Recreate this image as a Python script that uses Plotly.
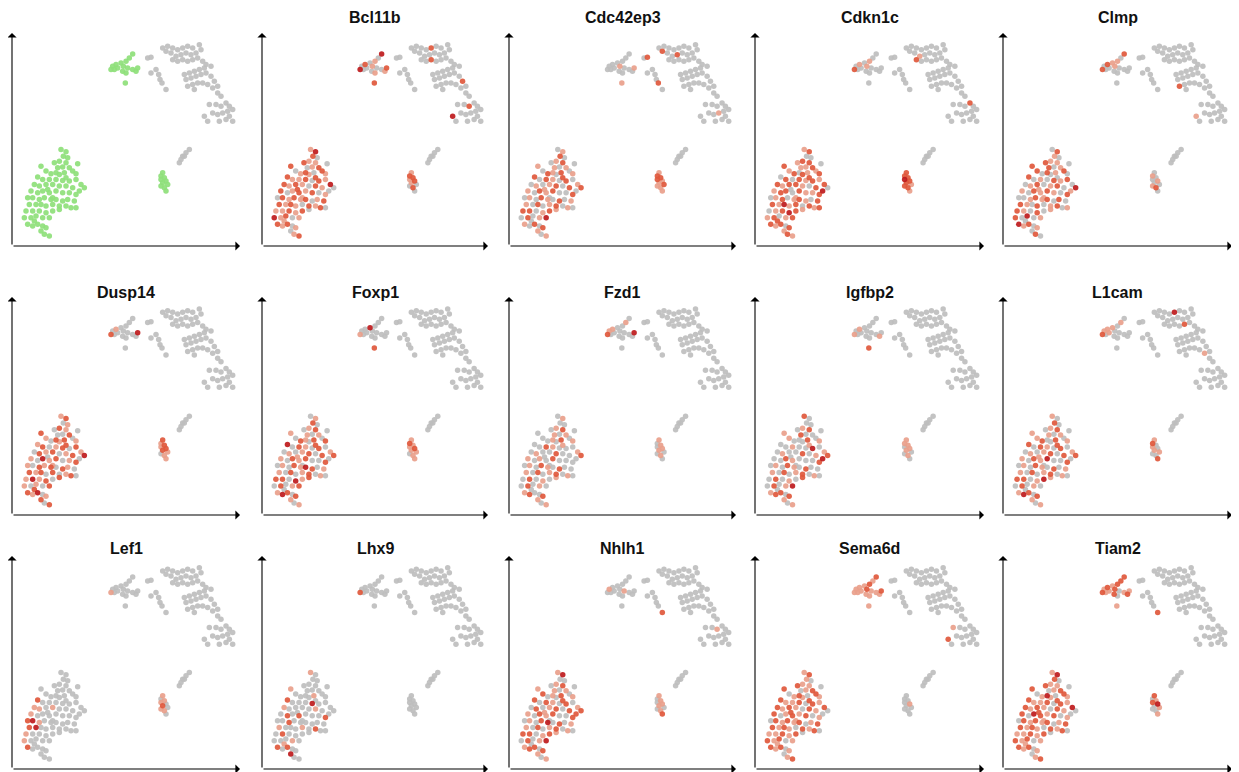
import plotly.graph_objects as go

# ---------------- data ----------------
genes = ["Bcl11b", "Cdc42ep3", "Cdkn1c", "Clmp", "Dusp14", "Foxp1", "Fzd1",
         "Igfbp2", "L1cam", "Lef1", "Lhx9", "Nhlh1", "Sema6d", "Tiam2"]

# cluster A (large, lower left)
A_x = [185, 200, 192, 205, 180, 165, 200, 235, 125, 190, 210, 140, 155, 170, 180, 195, 220, 230,
       115, 130, 150, 170, 190, 210, 230, 245, 255, 105, 120, 140, 160, 180, 200, 220, 95, 115,
       130, 150, 170, 190, 210, 230, 100, 120, 135, 155, 170, 190, 205, 225, 90, 110, 125, 140,
       160, 180, 200, 215, 230, 80, 100, 120, 140, 160, 180, 75, 95, 110, 130, 150, 85, 100, 115,
       130, 140, 125, 135, 150, 240, 85, 160, 200, 175, 105, 145]
A_y = [455, 462, 475, 480, 490, 495, 495, 498, 505, 508, 510, 520, 528, 525, 530, 525, 520, 528,
       538, 545, 545, 545, 548, 550, 545, 560, 570, 560, 565, 560, 560, 565, 565, 570, 580, 585,
       580, 585, 580, 585, 585, 590, 600, 605, 600, 605, 605, 610, 605, 610, 620, 620, 620, 625,
       620, 625, 625, 630, 630, 640, 640, 640, 645, 640, 635, 660, 660, 655, 660, 660, 680, 685, 680,
       685, 690, 700, 710, 715, 580, 600, 600, 540, 510, 670, 575]
# cluster B (small, upper left)
B_x = [400, 390, 380, 365, 350, 340, 335, 355, 372, 385, 400, 410, 415, 370, 345, 380, 378]
B_y = [168, 180, 190, 195, 200, 205, 215, 210, 205, 210, 215, 220, 210, 220, 215, 225, 255]
# cluster C (large, upper right)
C_x = [490, 505, 520, 535, 550, 565, 580, 600, 605, 590, 575, 560, 545, 530, 515, 500, 520, 535,
       550, 565, 580, 595, 610, 620, 635, 615, 600, 585, 570, 555, 560, 575, 590, 605, 620, 635,
       645, 655, 640, 625, 610, 595, 580, 565, 585, 655, 665,
       630, 650, 665, 680, 690, 700, 685, 670, 655, 640, 615, 625, 660, 680, 700, 690,
       445, 455, 470, 478, 482, 488, 500, 455]
C_y = [150, 145, 150, 155, 150, 145, 150, 140, 155, 165, 170, 165, 170, 175, 165, 160, 185, 190,
       185, 190, 185, 180, 190, 200, 205, 210, 215, 220, 225, 230, 245, 240, 235, 230, 225, 235,
       250, 265, 270, 260, 255, 255, 260, 265, 275, 285, 295,
       320, 320, 325, 315, 325, 335, 340, 345, 350, 345, 355, 370, 370, 365, 370, 355,
       180, 178, 215, 230, 245, 255, 275, 225]
# cluster D (small, middle, expressing)
D_x = [490, 485, 495, 485, 500, 490, 505, 495, 500, 485]
D_y = [525, 535, 540, 545, 550, 555, 560, 570, 580, 565]
# cluster E (small streak, non expressing)
E_x = [570, 560, 550, 545, 540, 555]
E_y = [455, 465, 475, 485, 495, 475]

# expression level per cell (0 none, 1 low, 2 mid, 3 high), one string per gene
expr_A = [
    "1320121021" "2012102121" "1202130212" "1021201212" "0121212012" "2121021201" "1212031201" "2120101200" "12012",
    "0120102010" "1021020120" "2102012010" "1202102120" "0210210201" "1020120102" "2012102013" "1020210100" "02101",
    "1200212021" "2120211202" "0212120212" "2102122021" "1212012102" "2131202120" "1232112012" "2120212130" "12120",
    "0210121020" "1202012020" "1021203012" "0120102121" "0201212020" "2102012012" "1020120301" "3120102010" "10201",
    "1201201020" "2102120112" "0120213021" "2012103120" "1202120210" "2120201201" "3120210102" "2130120201" "12020",
    "0120102010" "1021020230" "2102012010" "1202102120" "0210213201" "1020120102" "2031202012" "1320210100" "02101",
    "0100102000" "1001020100" "2100012010" "0200101020" "0010210200" "1020120100" "2010102010" "1200210100" "01100",
    "2000102010" "0100020100" "1003012010" "0201002100" "0210210200" "1020120100" "2010202013" "1220210130" "01200",
    "1020102010" "1120020120" "2102012010" "1202102130" "0210210201" "1020120102" "2013102010" "1320210100" "02101",
    "0000000000" "0000000020" "0000000110" "1000100000" "0031000000" "2300000001" "0000010000" "2000000002" "00000",
    "1000000010" "0000010020" "0030000100" "0010020200" "0202000000" "1000102000" "2000000010" "2020030000" "00010",
    "1300102010" "1201020120" "2102012020" "1202102120" "0210230201" "1020120102" "2012102013" "1220210120" "02101",
    "1210121021" "2012102121" "1202120212" "1021201212" "0121212012" "2121021201" "1212021201" "2120101200" "12012",
    "1320121021" "2013102121" "1202130212" "1021203212" "0121212012" "2121021201" "1212021201" "2120101200" "12012",
]
expr_B = ["30102030100120012", "00000000100010001", "00101020100000000", "20112020100000000",
          "00001020000030000", "00030010000000002", "01001120000030000", "00001010000100002",
          "01011121000000000", "00000010000000000", "00000020000000000", "00000100010000000",
          "21211111211121111", "22212121201212101"]
expr_D = ["1221210200", "1222112111", "2223221212", "0100100201", "2121221110", "1211211110",
          "1010110100", "1110110100", "1201011020", "1011020101", "0000000000", "1010110120",
          "0000100000", "2012301010"]
# cluster C is mostly silent: (cell index, level) pairs
C_hits = [
    [(4, 2), (18, 2), (36, 2), (49, 2), (57, 3)],
    [(64, 2), (15, 2), (12, 2), (68, 2), (54, 1)],
    [(16, 2), (50, 2), (13, 1)],
    [(43, 2), (57, 1)],
    [],
    [],
    [],
    [],
    [(4, 3), (20, 2), (38, 1)],
    [],
    [],
    [(69, 2), (49, 1)],
    [(57, 2), (47, 1)],
    [(69, 2)],
]

# ---------------- styling / layout ----------------
OFF = 8                      # page body margin of the browser
W, H = 1239 - OFF, 772 - OFF
GRAY = "#BEBEBE"
GREEN = "#8EE07A"
LEVEL_COLORS = ["#BEBEBE", "#E9A08B", "#E0583C", "#BE1A1C"]

col_l = [12, 262, 509, 755, 1003]
col_r = [240, 488, 736, 984, 1232]
row_t = [33, 297, 556]
row_b = [246, 515, 769]
title_y = [18, 292, 548]

XR = [38, 722]
YR = [745, 105]

fig = go.Figure()
annotations = []
layout_axes = {}


def add_scatter(n, xs, ys, color, size=5.5):
    sfx = "" if n == 1 else str(n)
    fig.add_trace(go.Scatter(
        x=xs, y=ys, mode="markers",
        marker=dict(color=color, size=size, opacity=0.92, line=dict(width=0)),
        xaxis="x" + sfx, yaxis="y" + sfx, showlegend=False, hoverinfo="skip"))


for p in range(15):
    r, c = divmod(p, 5)
    n = p + 1
    sfx = "" if n == 1 else str(n)
    l, rr = col_l[c] - OFF, col_r[c] - OFF
    t, b = row_t[r] - OFF, row_b[r] - OFF
    layout_axes["xaxis" + sfx] = dict(domain=[l / W, rr / W], range=XR, visible=False,
                                      anchor="y" + sfx, fixedrange=True)
    layout_axes["yaxis" + sfx] = dict(domain=[1 - b / H, 1 - t / H], range=YR, visible=False,
                                      anchor="x" + sfx, fixedrange=True)
    if p == 0:
        add_scatter(n, C_x + E_x, C_y + E_y, GRAY)
        add_scatter(n, A_x + B_x + D_x, A_y + B_y + D_y, GREEN)
    else:
        g = p - 1
        sa = expr_A[g].ljust(len(A_x), "0")
        sb = expr_B[g].ljust(len(B_x), "0")
        sd = expr_D[g].ljust(len(D_x), "0")
        sc = ["0"] * len(C_x)
        for idx, lv in C_hits[g]:
            sc[idx] = str(lv)
        xs = A_x + B_x + C_x + D_x + E_x
        ys = A_y + B_y + C_y + D_y + E_y
        lv_all = list(sa[:len(A_x)]) + list(sb[:len(B_x)]) + sc + list(sd[:len(D_x)]) + ["0"] * len(E_x)
        for lv in range(4):
            px = [x for x, v in zip(xs, lv_all) if int(v) == lv]
            py = [y for y, v in zip(ys, lv_all) if int(v) == lv]
            if px:
                add_scatter(n, px, py, LEVEL_COLORS[lv])
        annotations.append(dict(
            x=(l + rr) / 2 / W, y=1 - (title_y[r] - OFF) / H, xref="paper", yref="paper",
            text="<b>" + genes[g] + "</b>", showarrow=False, xanchor="center", yanchor="middle",
            font=dict(family="Liberation Sans, Arial, sans-serif", size=16, color="#111111")))
    # axis arrows
    for head in [(XR[0], YR[1]), (XR[1], YR[0])]:
        annotations.append(dict(
            x=head[0], y=head[1], ax=XR[0], ay=YR[0],
            xref="x" + sfx, yref="y" + sfx, axref="x" + sfx, ayref="y" + sfx,
            text="", showarrow=True, arrowhead=1, arrowsize=1.4, arrowwidth=1.1,
            arrowcolor="#000000", standoff=0, startstandoff=0))

fig.update_layout(
    width=W, height=H, margin=dict(l=0, r=0, t=0, b=0),
    paper_bgcolor="white", plot_bgcolor="white",
    annotations=annotations, showlegend=False, **layout_axes)

fig.write_html("out.html")
